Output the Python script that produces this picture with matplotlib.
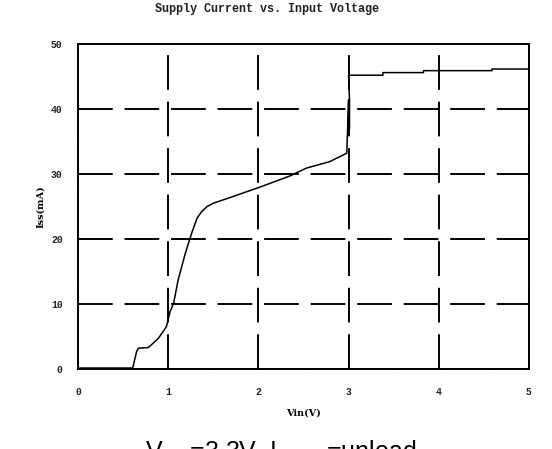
import matplotlib
matplotlib.use("Agg")
import matplotlib.pyplot as plt

# Supply current vs input voltage
vin = [0.0, 0.60, 0.61, 0.65, 0.67, 0.78, 0.89, 0.98, 1.02, 1.06, 1.11, 1.19, 1.26,
       1.32, 1.37, 1.43, 1.50, 1.69, 2.02, 2.35, 2.53, 2.79, 2.98, 3.0, 3.0, 3.01,
       3.01, 3.0, 3.38, 3.38, 3.83, 3.83, 4.59, 4.59, 5.0]
iss = [0.15, 0.15, 0.35, 2.7, 3.2, 3.3, 4.7, 6.5, 8.8, 10.1, 13.7, 17.8, 20.9,
       23.2, 24.2, 25.0, 25.5, 26.4, 28.0, 29.7, 30.9, 31.9, 33.2, 41.4, 37.0, 37.0,
       41.4, 45.2, 45.2, 45.6, 45.6, 45.9, 45.9, 46.15, 46.15]

xticks = [0, 1, 2, 3, 4, 5]
yticks = [0, 10, 20, 30, 40, 50]

plt.rcParams['lines.scale_dashes'] = False
mono = 'Liberation Mono'

fig = plt.figure(figsize=(5.52, 4.49), dpi=100)
ax = fig.add_axes([78 / 552, 1 - 369 / 449, 451 / 552, 325 / 449])

ax.plot(vin, iss, color='black', lw=1.1)
ax.set_xlim(0, 5)
ax.set_ylim(0, 50)
ax.set_xticks(xticks)
ax.set_yticks(yticks)
ax.tick_params(length=0, labelsize=7)
ax.tick_params(axis='x', pad=13)
ax.tick_params(axis='y', pad=11)
for lab in ax.get_xticklabels() + ax.get_yticklabels():
    lab.set_fontfamily(mono)
    lab.set_fontweight('bold')
    lab.set_color('#222222')
for s in ax.spines.values():
    s.set_linewidth(1.4)
ax.grid(True, color='black', lw=1.4, linestyle=(0, (25, 8.5)))

ax.set_xlabel('Vin(V)', fontsize=7, fontfamily='DejaVu Serif', fontweight='bold', labelpad=8)
ax.set_ylabel('Iss(mA)', fontsize=7, fontfamily='DejaVu Serif', fontweight='bold', labelpad=4)

fig.text(267 / 552, 1 - 9 / 449, 'Supply Current vs. Input Voltage', ha='center', va='center',
         fontsize=8.5, fontfamily=mono, fontweight='bold', color='#222222')
fig.text(281 / 552, 1 - 439 / 449, r'V$_{\rm DD}$=3.3V, I$_{\rm LOAD}$=unload', ha='center', va='top',
         fontsize=18, fontfamily='Liberation Sans')

fig.savefig('out.png', dpi=100)
